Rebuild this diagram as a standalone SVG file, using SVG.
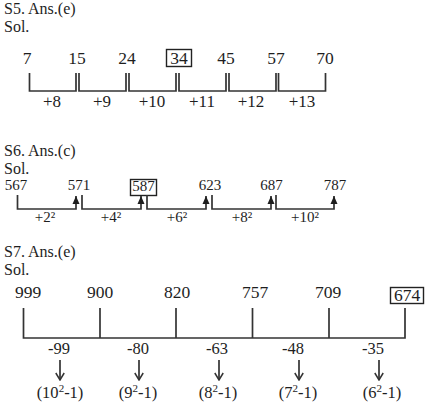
<svg xmlns="http://www.w3.org/2000/svg" width="434" height="415" viewBox="0 0 434 415">
<defs>
<style>
text{font-family:"Liberation Serif","DejaVu Serif",serif;fill:#1e1e1e}
.h{font-size:16px}
.n5{font-size:17.5px;text-anchor:middle}
.l5{font-size:17px;text-anchor:middle}
.n6{font-size:15px;text-anchor:middle}
.l6{font-size:15px;text-anchor:middle}
.n7{font-size:17.5px;text-anchor:middle}
.l7{font-size:16.5px;text-anchor:middle}
.ln{fill:none;stroke:#333;stroke-width:1.7}
.bx{fill:none;stroke:#222;stroke-width:1.4}
</style>
<marker id="up" viewBox="0 0 8 8" refX="8" refY="4" markerWidth="8" markerHeight="8" markerUnits="userSpaceOnUse" orient="auto">
<path d="M0,0.5 L8,4 L0,7.5 Z" fill="#1e1e1e"/>
</marker>
<marker id="dn" viewBox="0 0 10 10" refX="9.5" refY="5" markerWidth="10" markerHeight="10" markerUnits="userSpaceOnUse" orient="auto">
<path d="M2.5,0.8 L9.5,5 L2.5,9.2" fill="none" stroke="#333" stroke-width="1.5"/>
</marker>
</defs>

<g id="s5">
<text class="h" x="4" y="14">S5. Ans.(e)</text>
<text class="h" x="4" y="32">Sol.</text>
<g id="s5-nodes">
<g id="n5-7"><text class="n5" x="27" y="64">7</text></g>
<g id="n5-15"><text class="n5" x="77" y="64">15</text></g>
<g id="n5-24"><text class="n5" x="127" y="64">24</text></g>
<g id="n5-34"><rect class="bx" x="166.5" y="49.5" width="25" height="17"/><text class="n5" x="179" y="64">34</text></g>
<g id="n5-45"><text class="n5" x="226" y="64">45</text></g>
<g id="n5-57"><text class="n5" x="276" y="64">57</text></g>
<g id="n5-70"><text class="n5" x="325" y="64">70</text></g>
</g>
<g id="s5-connectors">
<path class="ln" d="M29.5,73 V91 H76 V73"/>
<path class="ln" d="M79,73 V91 H126 V73"/>
<path class="ln" d="M129,73 V91 H176 V73"/>
<path class="ln" d="M179,73 V91 H226 V73"/>
<path class="ln" d="M229,73 V91 H276 V73"/>
<path class="ln" d="M278.5,73 V91 H325.5 V73"/>
</g>
<g id="s5-labels">
<text class="l5" x="52" y="107">+8</text>
<text class="l5" x="102" y="107">+9</text>
<text class="l5" x="152" y="107">+10</text>
<text class="l5" x="202" y="107">+11</text>
<text class="l5" x="251" y="107">+12</text>
<text class="l5" x="302" y="107">+13</text>
</g>
</g>

<g id="s6">
<text class="h" x="4" y="155.5">S6. Ans.(c)</text>
<text class="h" x="4" y="173.5">Sol.</text>
<g id="s6-nodes">
<g id="n6-567"><text class="n6" x="16" y="190">567</text></g>
<g id="n6-571"><text class="n6" x="79" y="190">571</text></g>
<g id="n6-587"><rect class="bx" x="130.5" y="179.5" width="26" height="16"/><text class="n6" x="143.5" y="191">587</text></g>
<g id="n6-623"><text class="n6" x="210" y="190">623</text></g>
<g id="n6-687"><text class="n6" x="271.5" y="190">687</text></g>
<g id="n6-787"><text class="n6" x="335" y="190">787</text></g>
</g>
<g id="s6-connectors">
<path class="ln" d="M17.5,195 V209 H76 V196" marker-end="url(#up)"/>
<path class="ln" d="M82,195 V209 H141 V196" marker-end="url(#up)"/>
<path class="ln" d="M147,195 V209 H206 V196" marker-end="url(#up)"/>
<path class="ln" d="M212,195 V209 H271 V196" marker-end="url(#up)"/>
<path class="ln" d="M276,195 V209 H334 V196" marker-end="url(#up)"/>
</g>
<g id="s6-labels">
<text class="l6" x="45" y="222">+2²</text>
<text class="l6" x="111" y="222">+4²</text>
<text class="l6" x="177" y="222">+6²</text>
<text class="l6" x="242" y="222">+8²</text>
<text class="l6" x="305" y="222">+10²</text>
</g>
</g>

<g id="s7">
<text class="h" x="4" y="257">S7. Ans.(e)</text>
<text class="h" x="4" y="275">Sol.</text>
<g id="s7-nodes">
<g id="n7-999"><text class="n7" x="28" y="298">999</text></g>
<g id="n7-900"><text class="n7" x="100" y="298">900</text></g>
<g id="n7-820"><text class="n7" x="177" y="298">820</text></g>
<g id="n7-757"><text class="n7" x="255" y="298">757</text></g>
<g id="n7-709"><text class="n7" x="328" y="298">709</text></g>
<g id="n7-674"><rect class="bx" x="390.5" y="287.5" width="33" height="16"/><text class="n7" x="407" y="301">674</text></g>
</g>
<g id="s7-connectors">
<path class="ln" d="M23.5,308 V338 H405 V308"/>
<path class="ln" d="M100,308 V338"/>
<path class="ln" d="M176,308 V338"/>
<path class="ln" d="M252.5,308 V338"/>
<path class="ln" d="M329,308 V338"/>
<path class="ln" d="M60,360 V380" marker-end="url(#dn)"/>
<path class="ln" d="M139,360 V380" marker-end="url(#dn)"/>
<path class="ln" d="M219,360 V380" marker-end="url(#dn)"/>
<path class="ln" d="M299,360 V380" marker-end="url(#dn)"/>
<path class="ln" d="M379,360 V380" marker-end="url(#dn)"/>
</g>
<g id="s7-labels">
<text class="l7" x="59" y="354">-99</text>
<text class="l7" x="138" y="354">-80</text>
<text class="l7" x="217" y="354">-63</text>
<text class="l7" x="293" y="354">-48</text>
<text class="l7" x="373" y="354">-35</text>
<text class="l7" x="60" y="398">(10<tspan font-size="11" dy="-6">2</tspan><tspan dy="6">-1)</tspan></text>
<text class="l7" x="138" y="398">(9<tspan font-size="11" dy="-6">2</tspan><tspan dy="6">-1)</tspan></text>
<text class="l7" x="218" y="398">(8<tspan font-size="11" dy="-6">2</tspan><tspan dy="6">-1)</tspan></text>
<text class="l7" x="298" y="398">(7<tspan font-size="11" dy="-6">2</tspan><tspan dy="6">-1)</tspan></text>
<text class="l7" x="382" y="398">(6<tspan font-size="11" dy="-6">2</tspan><tspan dy="6">-1)</tspan></text>
</g>
</g>
</svg>
